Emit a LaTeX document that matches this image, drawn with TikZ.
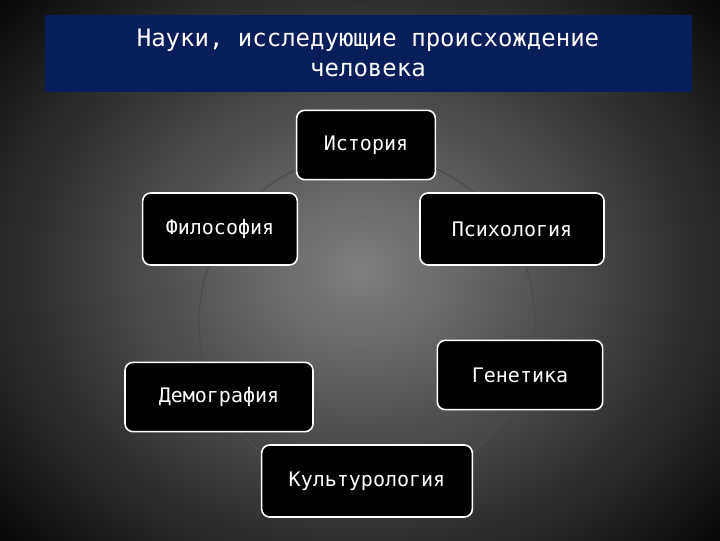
\documentclass[tikz,border=0pt]{standalone}
\usepackage{fontspec}
\setmainfont{DejaVu Sans Mono}
\begin{document}
\begin{tikzpicture}[x=0.75pt,y=-0.75pt,
  box/.style={draw=white,line width=1.2pt,fill=black,rounded corners=6pt,text=white,font=\fontsize{15}{17}\selectfont}]
\useasboundingbox (0,0) rectangle (720,540);
\shade[inner color=black!50, outer color=black] (-160,-160) rectangle (880,700);
\fill[fill={rgb,255:red,8;green,30;blue,90}] (45,15) rectangle (692,92);
\node[text=white,align=center,font=\fontsize{18}{22}\selectfont] (title) at (368,53) {Науки, исследующие происхождение\\человека};
\draw[black!70,line width=0.9pt] (367,322) circle[radius=168];
\node[box,minimum width=104pt,minimum height=52pt] (ist) at (366,145) {История};
\node[box,minimum width=116pt,minimum height=54pt] (fil) at (220,229) {Философия};
\node[box,minimum width=138pt,minimum height=54pt] (psi) at (512,229) {Психология};
\node[box,minimum width=141pt,minimum height=52pt] (dem) at (219,397) {Демография};
\node[box,minimum width=124pt,minimum height=52pt] (gen) at (520,375) {Генетика};
\node[box,minimum width=158pt,minimum height=54pt] (kul) at (367,481) {Культурология};
\end{tikzpicture}
\end{document}
